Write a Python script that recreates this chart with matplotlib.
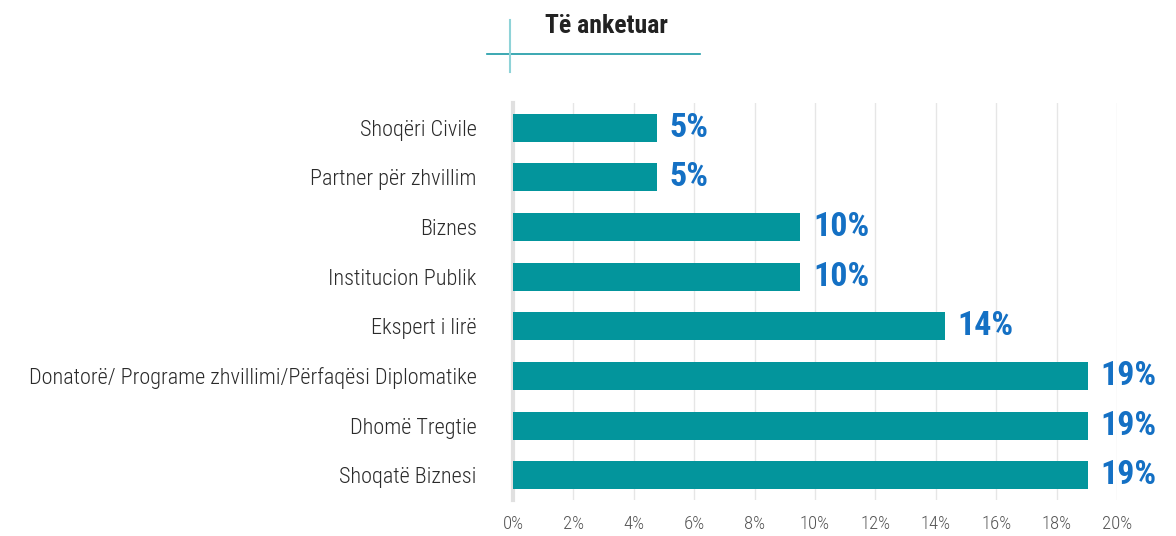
import matplotlib.pyplot as plt
from matplotlib.lines import Line2D

kategorite = ["Shoqëri Civile", "Partner për zhvillim", "Biznes", "Institucion Publik",
              "Ekspert i lirë", "Donatorë/ Programe zhvillimi/Përfaqësi Diplomatike",
              "Dhomë Tregtie", "Shoqatë Biznesi"]
perqindje = [4.76, 4.76, 9.52, 9.52, 14.29, 19.05, 19.05, 19.05]
etiketa = ["5%", "5%", "10%", "10%", "14%", "19%", "19%", "19%"]
ticks = [0, 2, 4, 6, 8, 10, 12, 14, 16, 18, 20]

plt.rcParams['font.family'] = ['Roboto Condensed', 'Archivo Narrow', 'DejaVu Sans']

fig = plt.figure(figsize=(11.76, 5.36), dpi=100)
ax = fig.add_axes([0.4362, 0.067, 0.5136, 0.741])

y = list(range(len(kategorite)))
ax.barh(y, perqindje, height=0.56, color="#03959c", zorder=3)
for i in y:
    ax.annotate(etiketa[i], (perqindje[i], i), xytext=(9, 0), textcoords="offset points",
                va="center", ha="left", fontsize=24.5, fontweight="bold", color="#1470c4")

ax.set_ylim(len(kategorite) - 0.5, -0.5)
ax.set_xlim(0, 20)
ax.set_yticks(y)
ax.set_yticklabels(kategorite, fontsize=16, fontweight="light", color="#2a2a2a")
ax.set_xticks(ticks)
ax.set_xticklabels([f"{t}%" for t in ticks], fontsize=13.5, fontweight="light", color="#555555")
ax.tick_params(axis="y", length=0, pad=26)
ax.tick_params(axis="x", length=0, pad=11)
ax.grid(axis="x", color="#e6e6e6", linewidth=1, zorder=0)
for s in ["top", "right", "bottom"]:
    ax.spines[s].set_visible(False)
ax.spines["left"].set_color("#e0e0e0")
ax.spines["left"].set_linewidth(3)

fig.text(545 / 1176, 1 - 26 / 536, "Të anketuar", fontsize=18.5, fontweight="bold",
         color="#222222", va="center", ha="left")
fig.add_artist(Line2D([487 / 1176, 700 / 1176], [1 - 54 / 536, 1 - 54 / 536],
                      color="#1a9aa6", linewidth=1.2))
fig.add_artist(Line2D([510 / 1176, 510 / 1176], [1 - 20 / 536, 1 - 72 / 536],
                      color="#8fd3d8", linewidth=1.5))

fig.savefig("out.png", dpi=100)
